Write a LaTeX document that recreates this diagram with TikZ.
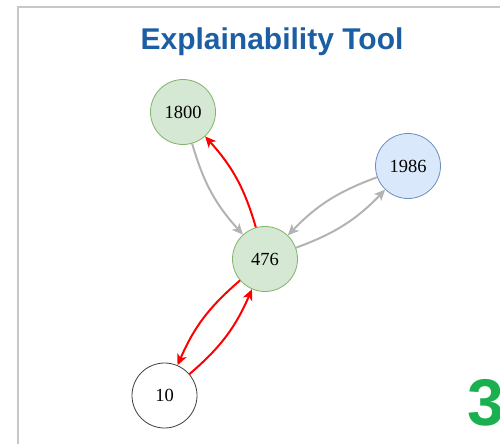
\documentclass[tikz,border=0pt]{standalone}
\usepackage{fontspec}
\setmainfont{Liberation Serif}
\newfontfamily\titlefont{Liberation Sans}
\usetikzlibrary{arrows.meta}
\definecolor{greenfill}{HTML}{D5E8D4}
\definecolor{greenline}{HTML}{82B366}
\definecolor{bluefill}{HTML}{DAE8FC}
\definecolor{blueline}{HTML}{6C8EBF}
\definecolor{titleblue}{HTML}{1B5EA3}
\definecolor{framegray}{HTML}{C8C8C8}
\definecolor{edgegray}{HTML}{B3B3B3}
\definecolor{bignum}{HTML}{1BB04F}
\tikzset{
  vtx/.style={circle, minimum size=65pt, inner sep=0pt, line width=0.8pt, font=\fontsize{18.5}{18.5}\selectfont},
  gnode/.style={vtx, fill=greenfill, draw=greenline},
  bnode/.style={vtx, fill=bluefill, draw=blueline},
  wnode/.style={vtx, fill=white, draw=black!75},
  gedge/.style={draw=edgegray, line width=2pt, -{Stealth[length=11pt,width=10pt,inset=3pt]}, bend right=13},
  redge/.style={draw=red, line width=2pt, -{Stealth[length=11pt,width=10pt,inset=3pt]}, bend right=13},
}
\begin{document}
\begin{tikzpicture}[x=1pt,y=-1pt]
\useasboundingbox (0,0) rectangle (500,444);
\draw[framegray, line width=2pt] (18,444) -- (18,7) -- (500,7);
\node[font=\titlefont\bfseries\fontsize{30}{30}\selectfont, text=titleblue, anchor=base, inner sep=0pt] (title) at (272,50) {Explainability Tool};
\node[gnode] (n1800) at (183,112) {1800};
\node[gnode] (n476) at (265,259) {476};
\node[bnode] (n1986) at (408,166) {1986};
\node[wnode] (n10) at (164.5,395.5) {10};
\node[font=\titlefont\bfseries\fontsize{66}{66}\selectfont, text=bignum, anchor=base west, inner sep=0pt] (three) at (467,425) {3};
\draw[gedge] (n1800) to (n476);
\draw[redge] (n476) to (n1800);
\draw[gedge] (n1986) to (n476);
\draw[gedge] (n476) to (n1986);
\draw[redge] (n476) to (n10);
\draw[redge] (n10) to (n476);
\end{tikzpicture}
\end{document}
